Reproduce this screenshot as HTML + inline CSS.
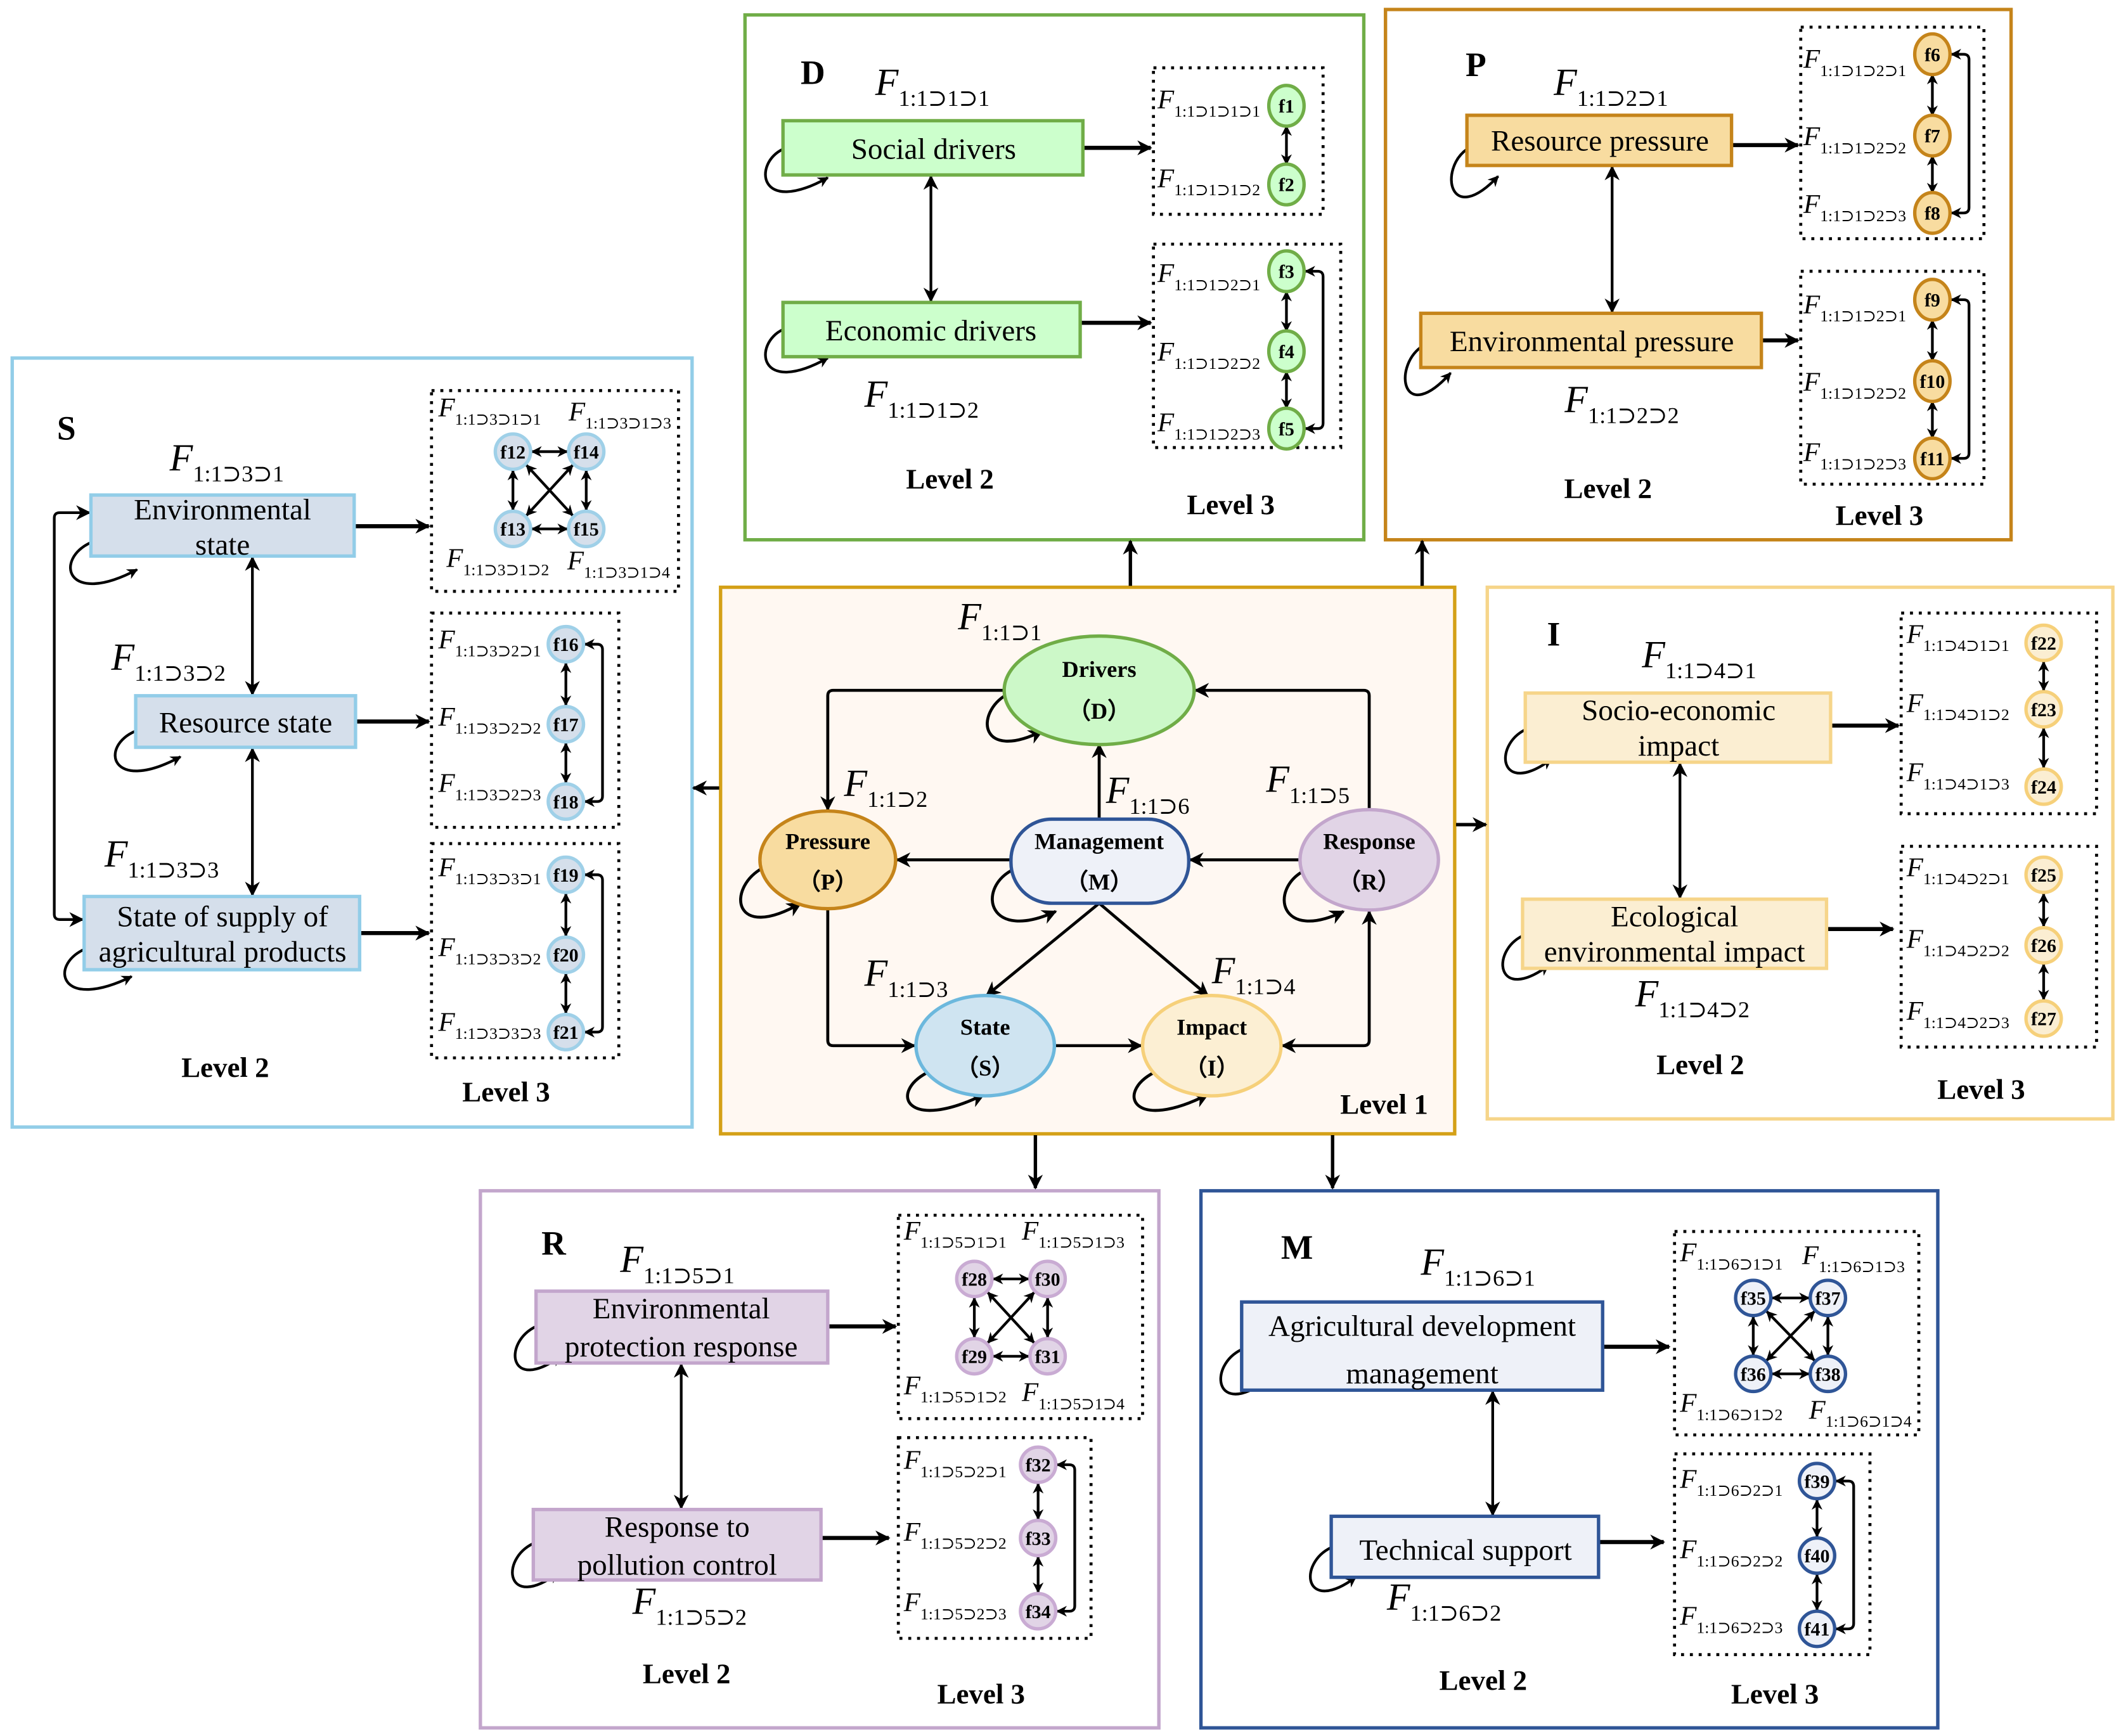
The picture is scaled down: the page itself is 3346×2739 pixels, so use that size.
<!DOCTYPE html>
<html><head><meta charset="utf-8"><style>html,body{margin:0;padding:0;background:#fff}svg{display:block}svg text{font-family:"Liberation Serif","DejaVu Serif",serif}</style></head>
<body>
<svg xmlns="http://www.w3.org/2000/svg" width="3346" height="2739" viewBox="0 0 1563 1280" preserveAspectRatio="none" style="font-family:'Liberation Serif','DejaVu Serif',serif">
<defs>
<marker id="a" viewBox="0 0 10 10" refX="9" refY="5" markerWidth="11" markerHeight="11" markerUnits="userSpaceOnUse" orient="auto-start-reverse"><path d="M0,0 L10,5 L0,10 L3,5 z" fill="#000"/></marker>
<marker id="b" viewBox="0 0 10 10" refX="9" refY="5" markerWidth="8" markerHeight="8" markerUnits="userSpaceOnUse" orient="auto-start-reverse"><path d="M0,0 L10,5 L0,10 L3,5 z" fill="#000"/></marker>
</defs>
<rect width="1563" height="1280" fill="#fff"/>

<rect x="549" y="11" width="456" height="387" fill="#fff" stroke="#70ad47" stroke-width="2.5"/>
<rect x="1021" y="7" width="461" height="391" fill="#fff" stroke="#c5841a" stroke-width="2.5"/>
<rect x="9" y="264" width="501" height="567" fill="#fff" stroke="#92cde8" stroke-width="2.5"/>
<rect x="531" y="433" width="541" height="403" fill="#fff8f2" stroke="#d4a017" stroke-width="2.5"/>
<rect x="1096" y="433" width="461" height="392" fill="#fff" stroke="#f6d58a" stroke-width="2.5"/>
<rect x="354" y="878" width="500" height="396" fill="#fff" stroke="#c3a6cc" stroke-width="2.5"/>
<rect x="885" y="878" width="543" height="396" fill="#fff" stroke="#2f5597" stroke-width="2.5"/>

<g stroke="#000" stroke-width="2.5" fill="none" marker-end="url(#a)">
<line x1="833" y1="432" x2="833" y2="399"/>
<line x1="1048" y1="432" x2="1048" y2="399"/>
<line x1="530" y1="581" x2="511" y2="581"/>
<line x1="1073" y1="608" x2="1095" y2="608"/>
<line x1="763" y1="837" x2="763" y2="876"/>
<line x1="982" y1="837" x2="982" y2="876"/>
</g>

<g stroke="#000" stroke-width="2.2" fill="none" marker-end="url(#a)">
<path d="M740,509 H614 Q610,509 610,513 V597"/>
<path d="M1009,597 V513 Q1009,509 1005,509 H881"/>
<line x1="810" y1="604" x2="810" y2="549"/>
<line x1="745" y1="634" x2="661" y2="634"/>
<line x1="958" y1="634" x2="877" y2="634"/>
<line x1="810" y1="666" x2="727" y2="734"/>
<line x1="810" y1="666" x2="890" y2="734"/>
<path d="M610,670 V767 Q610,771 614,771 H674"/>
<line x1="777" y1="771" x2="841" y2="771"/>
<path d="M945,771 H1005 Q1009,771 1009,767 V672" marker-start="url(#a)"/>
<path d="M742,512 C718,526 722,562 768,539"/>
<path d="M562,640 C535,655 540,695 590,666"/>
<path d="M745,642 C720,656 728,695 778,672"/>
<path d="M961,642 C935,656 943,695 990,672"/>
<path d="M683,791 C655,806 668,835 725,807"/>
<path d="M850,791 C822,806 835,835 890,807"/>
</g>
<ellipse cx="810" cy="509" rx="70" ry="40" fill="#ccf8c8" stroke="#70ad47" stroke-width="2.5"/>
<ellipse cx="610" cy="634" rx="50" ry="36" fill="#f8dca0" stroke="#c5841a" stroke-width="2.5"/>
<rect x="745" y="604" width="131" height="62" rx="30" fill="#eef1f8" stroke="#2f5597" stroke-width="2.5"/>
<ellipse cx="1009" cy="634" rx="51" ry="37" fill="#e1d4e6" stroke="#c3a6cc" stroke-width="2.5"/>
<ellipse cx="726" cy="771" rx="51" ry="37" fill="#cfe4f1" stroke="#6cb8dd" stroke-width="2.5"/>
<ellipse cx="893" cy="771" rx="51" ry="37" fill="#fcefd3" stroke="#f6d07a" stroke-width="2.5"/>
<g font-weight="bold" font-size="17" text-anchor="middle">
<text x="810" y="499">Drivers</text><text x="810" y="530">（D）</text>
<text x="610" y="626">Pressure</text><text x="610" y="656">（P）</text>
<text x="810" y="626">Management</text><text x="810" y="656">（M）</text>
<text x="1009" y="626">Response</text><text x="1009" y="656">（R）</text>
<text x="726" y="763">State</text><text x="726" y="793">（S）</text>
<text x="893" y="763">Impact</text><text x="893" y="793">（I）</text>
</g>
<g font-size="28"><text x="706" y="464"><tspan font-style="italic">F</tspan><tspan font-size="17" dy="8">1:1⊃1</tspan></text>
<text x="622" y="587"><tspan font-style="italic">F</tspan><tspan font-size="17" dy="8">1:1⊃2</tspan></text>
<text x="815" y="592"><tspan font-style="italic">F</tspan><tspan font-size="17" dy="8">1:1⊃6</tspan></text>
<text x="933" y="584"><tspan font-style="italic">F</tspan><tspan font-size="17" dy="8">1:1⊃5</tspan></text>
<text x="637" y="727"><tspan font-style="italic">F</tspan><tspan font-size="17" dy="8">1:1⊃3</tspan></text>
<text x="893" y="725"><tspan font-style="italic">F</tspan><tspan font-size="17" dy="8">1:1⊃4</tspan></text></g>
<text x="1020" y="821" font-size="21" font-weight="bold" text-anchor="middle">Level 1</text>

<g font-size="21" text-anchor="middle" font-weight="bold">
<text x="700" y="360">Level 2</text><text x="907" y="379">Level 3</text>
<text x="1185" y="367">Level 2</text><text x="1385" y="387">Level 3</text>
<text x="166" y="794">Level 2</text><text x="373" y="812">Level 3</text>
<text x="1253" y="792">Level 2</text><text x="1460" y="810">Level 3</text>
<text x="506" y="1241">Level 2</text><text x="723" y="1256">Level 3</text>
<text x="1093" y="1246">Level 2</text><text x="1308" y="1256">Level 3</text>
</g>
<g font-size="25" font-weight="bold">
<text x="590" y="62">D</text><text x="1080" y="56">P</text><text x="42" y="324">S</text>
<text x="1140" y="476">I</text><text x="399" y="925">R</text><text x="944" y="928">M</text>
</g>

<g stroke="#000" stroke-width="2" fill="none" marker-end="url(#a)">
<line x1="686" y1="130" x2="686" y2="222" marker-start="url(#a)"/>
<line x1="1188" y1="123" x2="1188" y2="230" marker-start="url(#a)"/>
<line x1="186" y1="411" x2="186" y2="512" marker-start="url(#a)"/>
<line x1="186" y1="552" x2="186" y2="660" marker-start="url(#a)"/>
<path d="M66,378 H44 Q40,378 40,382 V674 Q40,678 44,678 H61" marker-start="url(#a)"/>
<line x1="1238" y1="563" x2="1238" y2="662" marker-start="url(#a)"/>
<line x1="502" y1="1006" x2="502" y2="1112" marker-start="url(#a)"/>
<line x1="1100" y1="1026" x2="1100" y2="1117" marker-start="url(#a)"/>
</g>
<g stroke="#000" stroke-width="3" fill="none" marker-end="url(#a)">
<line x1="798" y1="109" x2="848" y2="109"/>
<line x1="796" y1="238" x2="848" y2="238"/>
<line x1="1277" y1="107" x2="1325" y2="107"/>
<line x1="1299" y1="251" x2="1325" y2="251"/>
<line x1="262" y1="388" x2="316" y2="388"/>
<line x1="263" y1="532" x2="316" y2="532"/>
<line x1="266" y1="688" x2="316" y2="688"/>
<line x1="1350" y1="535" x2="1399" y2="535"/>
<line x1="1347" y1="685" x2="1395" y2="685"/>
<line x1="611" y1="978" x2="660" y2="978"/>
<line x1="606" y1="1134" x2="655" y2="1134"/>
<line x1="1182" y1="993" x2="1230" y2="993"/>
<line x1="1179" y1="1137" x2="1226" y2="1137"/>
</g>
<g stroke="#000" stroke-width="2" fill="none" marker-end="url(#b)">
<path d="M577,110 C555,120 558,160 610,131"/>
<path d="M577,243 C555,253 558,293 610,264"/>
<path d="M1081,110 C1060,125 1068,168 1104,130"/>
<path d="M1047,256 C1026,272 1034,314 1069,275"/>
<path d="M67,400 C40,412 48,448 101,420"/>
<path d="M100,539 C73,550 81,586 133,558"/>
<path d="M62,700 C36,712 44,746 97,720"/>
<path d="M1124,538 C1100,550 1105,588 1143,560"/>
<path d="M1122,690 C1098,702 1103,740 1141,712"/>
<path d="M395,978 C370,990 375,1028 413,1000"/>
<path d="M393,1138 C368,1150 373,1188 411,1160"/>
<path d="M915,995 C890,1007 895,1046 933,1018"/>
<path d="M981,1141 C956,1153 961,1191 999,1163"/>
</g>

<rect x="577" y="89" width="221" height="40" fill="#ccffcc" stroke="#70ad47" stroke-width="2.5"/>
<rect x="577" y="223" width="219" height="40" fill="#ccffcc" stroke="#70ad47" stroke-width="2.5"/>
<rect x="1081" y="85" width="195" height="37" fill="#f8dca0" stroke="#c5841a" stroke-width="2.5"/>
<rect x="1047" y="231" width="251" height="40" fill="#f8dca0" stroke="#c5841a" stroke-width="2.5"/>
<rect x="67" y="365" width="194" height="45" fill="#d5dfeb" stroke="#92cde8" stroke-width="2.5"/>
<rect x="100" y="513" width="162" height="38" fill="#d5dfeb" stroke="#92cde8" stroke-width="2.5"/>
<rect x="62" y="661" width="203" height="54" fill="#d5dfeb" stroke="#92cde8" stroke-width="2.5"/>
<rect x="1124" y="511" width="225" height="51" fill="#fbeed2" stroke="#f6d58a" stroke-width="2.5"/>
<rect x="1122" y="663" width="224" height="51" fill="#fbeed2" stroke="#f6d58a" stroke-width="2.5"/>
<rect x="395" y="952" width="215" height="53" fill="#e1d4e6" stroke="#c3a6cc" stroke-width="2.5"/>
<rect x="393" y="1113" width="212" height="52" fill="#e1d4e6" stroke="#c3a6cc" stroke-width="2.5"/>
<rect x="915" y="960" width="266" height="65" fill="#eef1f8" stroke="#2f5597" stroke-width="2.5"/>
<rect x="981" y="1118" width="197" height="45" fill="#eef1f8" stroke="#2f5597" stroke-width="2.5"/>
<g font-size="22" text-anchor="middle">
<text x="688" y="117">Social drivers</text>
<text x="686" y="251">Economic drivers</text>
<text x="1179" y="111">Resource pressure</text>
<text x="1173" y="259">Environmental pressure</text>
<text x="164" y="383">Environmental</text><text x="164" y="409">state</text>
<text x="181" y="540">Resource state</text>
<text x="164" y="683">State of supply of</text><text x="164" y="709">agricultural products</text>
<text x="1237" y="531">Socio-economic</text><text x="1237" y="557">impact</text>
<text x="1234" y="683">Ecological</text><text x="1234" y="709">environmental impact</text>
<text x="502" y="972">Environmental</text><text x="502" y="1000">protection response</text>
<text x="499" y="1133">Response to</text><text x="499" y="1161">pollution control</text>
<text x="1048" y="985">Agricultural development</text><text x="1048" y="1020">management</text>
<text x="1080" y="1150">Technical support</text>
</g>
<g font-size="28">
<text x="645" y="70"><tspan font-style="italic">F</tspan><tspan font-size="17" dy="8">1:1⊃1⊃1</tspan></text>
<text x="637" y="300"><tspan font-style="italic">F</tspan><tspan font-size="17" dy="8">1:1⊃1⊃2</tspan></text>
<text x="1145" y="70"><tspan font-style="italic">F</tspan><tspan font-size="17" dy="8">1:1⊃2⊃1</tspan></text>
<text x="1153" y="304"><tspan font-style="italic">F</tspan><tspan font-size="17" dy="8">1:1⊃2⊃2</tspan></text>
<text x="125" y="347"><tspan font-style="italic">F</tspan><tspan font-size="17" dy="8">1:1⊃3⊃1</tspan></text>
<text x="82" y="494"><tspan font-style="italic">F</tspan><tspan font-size="17" dy="8">1:1⊃3⊃2</tspan></text>
<text x="77" y="639"><tspan font-style="italic">F</tspan><tspan font-size="17" dy="8">1:1⊃3⊃3</tspan></text>
<text x="1210" y="492"><tspan font-style="italic">F</tspan><tspan font-size="17" dy="8">1:1⊃4⊃1</tspan></text>
<text x="1205" y="742"><tspan font-style="italic">F</tspan><tspan font-size="17" dy="8">1:1⊃4⊃2</tspan></text>
<text x="457" y="938"><tspan font-style="italic">F</tspan><tspan font-size="17" dy="8">1:1⊃5⊃1</tspan></text>
<text x="466" y="1190"><tspan font-style="italic">F</tspan><tspan font-size="17" dy="8">1:1⊃5⊃2</tspan></text>
<text x="1047" y="940"><tspan font-style="italic">F</tspan><tspan font-size="17" dy="8">1:1⊃6⊃1</tspan></text>
<text x="1022" y="1187"><tspan font-style="italic">F</tspan><tspan font-size="17" dy="8">1:1⊃6⊃2</tspan></text>
</g>

<g fill="none" stroke="#000" stroke-width="2.2" stroke-dasharray="2.2 4.3">
<rect x="850" y="50" width="125" height="108"/>
<rect x="850" y="180" width="138" height="150"/>
<rect x="1327" y="20" width="135" height="156"/>
<rect x="1327" y="200" width="135" height="157"/>
<rect x="318" y="288" width="182" height="148"/>
<rect x="318" y="452" width="138" height="158"/>
<rect x="318" y="622" width="138" height="158"/>
<rect x="1401" y="452" width="144" height="148"/>
<rect x="1401" y="624" width="144" height="148"/>
<rect x="662" y="896" width="180" height="150"/>
<rect x="662" y="1060" width="142" height="148"/>
<rect x="1234" y="908" width="180" height="150"/>
<rect x="1234" y="1072" width="144" height="148"/>
</g>

<g stroke="#000" stroke-width="2" fill="none" marker-end="url(#b)" marker-start="url(#b)">
<line x1="948" y1="93" x2="948" y2="121"/>
<line x1="948" y1="215" x2="948" y2="244"/><line x1="948" y1="274" x2="948" y2="301"/>
<path d="M962,316 H971 Q975,316 975,312 V204 Q975,200 971,200 H962"/>
<line x1="1424" y1="55" x2="1424" y2="85"/><line x1="1424" y1="115" x2="1424" y2="142"/>
<path d="M1438,157 H1447 Q1451,157 1451,153 V44 Q1451,40 1447,40 H1438"/>
<line x1="1424" y1="236" x2="1424" y2="266"/><line x1="1424" y1="296" x2="1424" y2="323"/>
<path d="M1438,338 H1447 Q1451,338 1451,334 V225 Q1451,221 1447,221 H1438"/>
<line x1="392" y1="333" x2="418" y2="333"/><line x1="392" y1="390" x2="418" y2="390"/>
<line x1="378" y1="347" x2="378" y2="376"/><line x1="432" y1="347" x2="432" y2="376"/>
<line x1="388" y1="343" x2="422" y2="380"/><line x1="422" y1="343" x2="388" y2="380"/>
<line x1="417" y1="489" x2="417" y2="520"/><line x1="417" y1="548" x2="417" y2="577"/>
<path d="M431,591 H440 Q444,591 444,587 V479 Q444,475 440,475 H431"/>
<line x1="417" y1="659" x2="417" y2="690"/><line x1="417" y1="718" x2="417" y2="747"/>
<path d="M431,761 H440 Q444,761 444,757 V649 Q444,645 440,645 H431"/>
<line x1="1506" y1="488" x2="1506" y2="509"/><line x1="1506" y1="537" x2="1506" y2="566"/>
<line x1="1506" y1="659" x2="1506" y2="683"/><line x1="1506" y1="711" x2="1506" y2="737"/>
<line x1="732" y1="943" x2="758" y2="943"/><line x1="732" y1="1000" x2="758" y2="1000"/>
<line x1="718" y1="957" x2="718" y2="986"/><line x1="772" y1="957" x2="772" y2="986"/>
<line x1="728" y1="953" x2="762" y2="990"/><line x1="762" y1="953" x2="728" y2="990"/>
<line x1="765" y1="1094" x2="765" y2="1120"/><line x1="765" y1="1148" x2="765" y2="1174"/>
<path d="M779,1188 H788 Q792,1188 792,1184 V1084 Q792,1080 788,1080 H779"/>
<line x1="1306" y1="957" x2="1333" y2="957"/><line x1="1306" y1="1013" x2="1333" y2="1013"/>
<line x1="1292" y1="971" x2="1292" y2="999"/><line x1="1347" y1="971" x2="1347" y2="999"/>
<line x1="1302" y1="967" x2="1337" y2="1003"/><line x1="1337" y1="967" x2="1302" y2="1003"/>
<line x1="1339" y1="1106" x2="1339" y2="1133"/><line x1="1339" y1="1161" x2="1339" y2="1187"/>
<path d="M1353,1201 H1362 Q1366,1201 1366,1197 V1096 Q1366,1092 1362,1092 H1353"/>
</g>

<g stroke-width="2.5" font-size="14" font-weight="bold" text-anchor="middle">
<g fill="#ccffcc" stroke="#70ad47">
<ellipse cx="948" cy="78" rx="13" ry="15"/><ellipse cx="948" cy="136" rx="13" ry="15"/>
<ellipse cx="948" cy="200" rx="13" ry="15"/><ellipse cx="948" cy="259" rx="13" ry="15"/><ellipse cx="948" cy="316" rx="13" ry="15"/></g>
<g fill="#f8dca0" stroke="#c5841a">
<ellipse cx="1424" cy="40" rx="13" ry="15"/><ellipse cx="1424" cy="100" rx="13" ry="15"/><ellipse cx="1424" cy="157" rx="13" ry="15"/>
<ellipse cx="1424" cy="221" rx="13" ry="15"/><ellipse cx="1424" cy="281" rx="13" ry="15"/><ellipse cx="1424" cy="338" rx="13" ry="15"/></g>
<g fill="#d5dfeb" stroke="#9fd0e8">
<circle cx="378" cy="333" r="13"/><circle cx="432" cy="333" r="13"/><circle cx="378" cy="390" r="13"/><circle cx="432" cy="390" r="13"/>
<circle cx="417" cy="475" r="13"/><circle cx="417" cy="534" r="13"/><circle cx="417" cy="591" r="13"/>
<circle cx="417" cy="645" r="13"/><circle cx="417" cy="704" r="13"/><circle cx="417" cy="761" r="13"/></g>
<g fill="#fbeed2" stroke="#f6d07a">
<circle cx="1506" cy="474" r="13"/><circle cx="1506" cy="523" r="13"/><circle cx="1506" cy="580" r="13"/>
<circle cx="1506" cy="645" r="13"/><circle cx="1506" cy="697" r="13"/><circle cx="1506" cy="751" r="13"/></g>
<g fill="#e1d4e6" stroke="#c9abd3">
<circle cx="718" cy="943" r="13"/><circle cx="772" cy="943" r="13"/><circle cx="718" cy="1000" r="13"/><circle cx="772" cy="1000" r="13"/>
<circle cx="765" cy="1080" r="13"/><circle cx="765" cy="1134" r="13"/><circle cx="765" cy="1188" r="13"/></g>
<g fill="#eef1f8" stroke="#2f5597">
<circle cx="1292" cy="957" r="13"/><circle cx="1347" cy="957" r="13"/><circle cx="1292" cy="1013" r="13"/><circle cx="1347" cy="1013" r="13"/>
<circle cx="1339" cy="1092" r="13"/><circle cx="1339" cy="1147" r="13"/><circle cx="1339" cy="1201" r="13"/></g>
<g fill="#000" stroke="none">
<text x="948" y="83">f1</text><text x="948" y="141">f2</text><text x="948" y="205">f3</text><text x="948" y="264">f4</text><text x="948" y="321">f5</text>
<text x="1424" y="45">f6</text><text x="1424" y="105">f7</text><text x="1424" y="162">f8</text><text x="1424" y="226">f9</text><text x="1424" y="286">f10</text><text x="1424" y="343">f11</text>
<text x="378" y="338">f12</text><text x="432" y="338">f14</text><text x="378" y="395">f13</text><text x="432" y="395">f15</text>
<text x="417" y="480">f16</text><text x="417" y="539">f17</text><text x="417" y="596">f18</text>
<text x="417" y="650">f19</text><text x="417" y="709">f20</text><text x="417" y="766">f21</text>
<text x="1506" y="479">f22</text><text x="1506" y="528">f23</text><text x="1506" y="585">f24</text>
<text x="1506" y="650">f25</text><text x="1506" y="702">f26</text><text x="1506" y="756">f27</text>
<text x="718" y="948">f28</text><text x="772" y="948">f30</text><text x="718" y="1005">f29</text><text x="772" y="1005">f31</text>
<text x="765" y="1085">f32</text><text x="765" y="1139">f33</text><text x="765" y="1193">f34</text>
<text x="1292" y="962">f35</text><text x="1347" y="962">f37</text><text x="1292" y="1018">f36</text><text x="1347" y="1018">f38</text>
<text x="1339" y="1097">f39</text><text x="1339" y="1152">f40</text><text x="1339" y="1206">f41</text>
</g></g>

<g font-size="20">
<text x="853" y="80"><tspan font-style="italic">F</tspan><tspan font-size="12" dy="6">1:1⊃1⊃1⊃1</tspan></text>
<text x="853" y="138"><tspan font-style="italic">F</tspan><tspan font-size="12" dy="6">1:1⊃1⊃1⊃2</tspan></text>
<text x="853" y="208"><tspan font-style="italic">F</tspan><tspan font-size="12" dy="6">1:1⊃1⊃2⊃1</tspan></text>
<text x="853" y="266"><tspan font-style="italic">F</tspan><tspan font-size="12" dy="6">1:1⊃1⊃2⊃2</tspan></text>
<text x="853" y="318"><tspan font-style="italic">F</tspan><tspan font-size="12" dy="6">1:1⊃1⊃2⊃3</tspan></text>
<text x="1329" y="50"><tspan font-style="italic">F</tspan><tspan font-size="12" dy="6">1:1⊃1⊃2⊃1</tspan></text>
<text x="1329" y="107"><tspan font-style="italic">F</tspan><tspan font-size="12" dy="6">1:1⊃1⊃2⊃2</tspan></text>
<text x="1329" y="157"><tspan font-style="italic">F</tspan><tspan font-size="12" dy="6">1:1⊃1⊃2⊃3</tspan></text>
<text x="1329" y="231"><tspan font-style="italic">F</tspan><tspan font-size="12" dy="6">1:1⊃1⊃2⊃1</tspan></text>
<text x="1329" y="288"><tspan font-style="italic">F</tspan><tspan font-size="12" dy="6">1:1⊃1⊃2⊃2</tspan></text>
<text x="1329" y="340"><tspan font-style="italic">F</tspan><tspan font-size="12" dy="6">1:1⊃1⊃2⊃3</tspan></text>
<text x="323" y="307"><tspan font-style="italic">F</tspan><tspan font-size="12" dy="6">1:1⊃3⊃1⊃1</tspan></text>
<text x="419" y="310"><tspan font-style="italic">F</tspan><tspan font-size="12" dy="6">1:1⊃3⊃1⊃3</tspan></text>
<text x="329" y="418"><tspan font-style="italic">F</tspan><tspan font-size="12" dy="6">1:1⊃3⊃1⊃2</tspan></text>
<text x="418" y="420"><tspan font-style="italic">F</tspan><tspan font-size="12" dy="6">1:1⊃3⊃1⊃4</tspan></text>
<text x="323" y="478"><tspan font-style="italic">F</tspan><tspan font-size="12" dy="6">1:1⊃3⊃2⊃1</tspan></text>
<text x="323" y="535"><tspan font-style="italic">F</tspan><tspan font-size="12" dy="6">1:1⊃3⊃2⊃2</tspan></text>
<text x="323" y="584"><tspan font-style="italic">F</tspan><tspan font-size="12" dy="6">1:1⊃3⊃2⊃3</tspan></text>
<text x="323" y="646"><tspan font-style="italic">F</tspan><tspan font-size="12" dy="6">1:1⊃3⊃3⊃1</tspan></text>
<text x="323" y="705"><tspan font-style="italic">F</tspan><tspan font-size="12" dy="6">1:1⊃3⊃3⊃2</tspan></text>
<text x="323" y="760"><tspan font-style="italic">F</tspan><tspan font-size="12" dy="6">1:1⊃3⊃3⊃3</tspan></text>
<text x="1405" y="474"><tspan font-style="italic">F</tspan><tspan font-size="12" dy="6">1:1⊃4⊃1⊃1</tspan></text>
<text x="1405" y="525"><tspan font-style="italic">F</tspan><tspan font-size="12" dy="6">1:1⊃4⊃1⊃2</tspan></text>
<text x="1405" y="576"><tspan font-style="italic">F</tspan><tspan font-size="12" dy="6">1:1⊃4⊃1⊃3</tspan></text>
<text x="1405" y="646"><tspan font-style="italic">F</tspan><tspan font-size="12" dy="6">1:1⊃4⊃2⊃1</tspan></text>
<text x="1405" y="699"><tspan font-style="italic">F</tspan><tspan font-size="12" dy="6">1:1⊃4⊃2⊃2</tspan></text>
<text x="1405" y="752"><tspan font-style="italic">F</tspan><tspan font-size="12" dy="6">1:1⊃4⊃2⊃3</tspan></text>
<text x="666" y="914"><tspan font-style="italic">F</tspan><tspan font-size="12" dy="6">1:1⊃5⊃1⊃1</tspan></text>
<text x="753" y="914"><tspan font-style="italic">F</tspan><tspan font-size="12" dy="6">1:1⊃5⊃1⊃3</tspan></text>
<text x="666" y="1028"><tspan font-style="italic">F</tspan><tspan font-size="12" dy="6">1:1⊃5⊃1⊃2</tspan></text>
<text x="753" y="1033"><tspan font-style="italic">F</tspan><tspan font-size="12" dy="6">1:1⊃5⊃1⊃4</tspan></text>
<text x="666" y="1083"><tspan font-style="italic">F</tspan><tspan font-size="12" dy="6">1:1⊃5⊃2⊃1</tspan></text>
<text x="666" y="1136"><tspan font-style="italic">F</tspan><tspan font-size="12" dy="6">1:1⊃5⊃2⊃2</tspan></text>
<text x="666" y="1188"><tspan font-style="italic">F</tspan><tspan font-size="12" dy="6">1:1⊃5⊃2⊃3</tspan></text>
<text x="1238" y="930"><tspan font-style="italic">F</tspan><tspan font-size="12" dy="6">1:1⊃6⊃1⊃1</tspan></text>
<text x="1328" y="932"><tspan font-style="italic">F</tspan><tspan font-size="12" dy="6">1:1⊃6⊃1⊃3</tspan></text>
<text x="1238" y="1041"><tspan font-style="italic">F</tspan><tspan font-size="12" dy="6">1:1⊃6⊃1⊃2</tspan></text>
<text x="1333" y="1046"><tspan font-style="italic">F</tspan><tspan font-size="12" dy="6">1:1⊃6⊃1⊃4</tspan></text>
<text x="1238" y="1097"><tspan font-style="italic">F</tspan><tspan font-size="12" dy="6">1:1⊃6⊃2⊃1</tspan></text>
<text x="1238" y="1149"><tspan font-style="italic">F</tspan><tspan font-size="12" dy="6">1:1⊃6⊃2⊃2</tspan></text>
<text x="1238" y="1198"><tspan font-style="italic">F</tspan><tspan font-size="12" dy="6">1:1⊃6⊃2⊃3</tspan></text>
</g>
</svg>
</body></html>
